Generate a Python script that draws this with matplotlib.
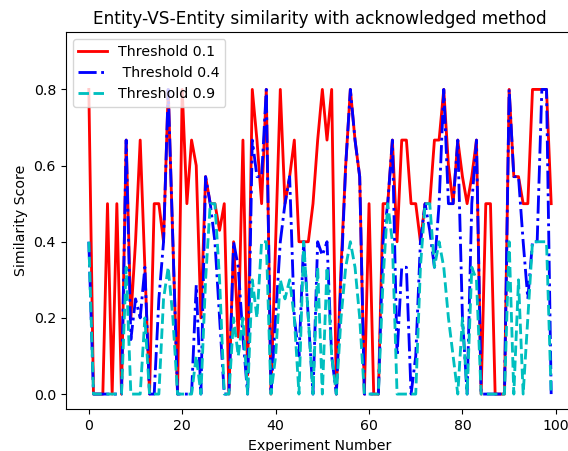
import matplotlib
matplotlib.use("Agg")
import matplotlib.pyplot as plt
import numpy as np

# similarity scores per experiment
red_vals = [0.8, 0, 0, 0, 0.5, 0, 0.5, 0, 0.667, 0.2,
            0.4, 0.667, 0.333, 0, 0.5, 0.5, 0.4, 0.8, 0.4, 0,
            0.8, 0.5, 0.667, 0.6, 0.2, 0.571, 0.5, 0.5, 0.43, 0.5,
            0, 0.4, 0.15, 0.667, 0.05, 0.8, 0.667, 0.5, 0.8, 0,
            0.4, 0.8, 0.5, 0.571, 0.667, 0.4, 0.4, 0.4, 0.5, 0.667,
            0.8, 0.667, 0.8, 0, 0.333, 0.6, 0.8, 0.667, 0.571, 0,
            0.5, 0, 0, 0.5, 0.5, 0.667, 0.4, 0.667, 0.667, 0.5,
            0.5, 0.4, 0.5, 0.5, 0.667, 0.667, 0.8, 0.6, 0.5, 0.667,
            0.571, 0.5, 0.571, 0.667, 0, 0.5, 0.5, 0, 0, 0,
            0.8, 0.571, 0.571, 0.5, 0.5, 0.8, 0.8, 0.8, 0.8, 0.5]
blue_vals = [0.4, 0, 0, 0, 0, 0, 0, 0, 0.667, 0.143,
             0.25, 0.2, 0.333, 0, 0, 0.25, 0.4, 0.8, 0.4, 0,
             0, 0, 0, 0.286, 0, 0.571, 0.5, 0.4, 0.2, 0,
             0, 0.4, 0.333, 0.15, 0, 0.667, 0.571, 0.571, 0.8, 0,
             0.2, 0.4, 0.5, 0.571, 0.2, 0.1, 0.4, 0.2, 0, 0.4,
             0.364, 0.4, 0.1, 0, 0.3, 0.6, 0.8, 0.667, 0.571, 0,
             0, 0, 0, 0.4, 0.5, 0.667, 0.1, 0.333, 0.333, 0,
             0.1, 0.4, 0.5, 0.429, 0.333, 0.5, 0.8, 0.5, 0.5, 0.667,
             0.2, 0, 0.5, 0.667, 0, 0, 0, 0, 0, 0,
             0.8, 0.571, 0.571, 0.4, 0.25, 0.4, 0.4, 0.8, 0.8, 0]
cyan_vals = [0.4, 0, 0, 0, 0, 0, 0, 0, 0.333, 0,
             0, 0, 0.2, 0, 0, 0, 0.25, 0.333, 0.2, 0,
             0, 0, 0, 0.1, 0, 0.3, 0.5, 0.5, 0.3, 0,
             0, 0.2, 0.1, 0.2, 0, 0.3, 0.2, 0.4, 0.4, 0,
             0.1, 0.3, 0.25, 0.3, 0.2, 0, 0.4, 0.2, 0, 0.333,
             0, 0.333, 0.1, 0, 0.2, 0.333, 0.4, 0.333, 0.2, 0,
             0, 0, 0, 0.3, 0.5, 0.4, 0, 0, 0, 0,
             0, 0.333, 0.5, 0.5, 0.333, 0.4, 0.333, 0.2, 0.1, 0,
             0.2, 0, 0.333, 0.3, 0, 0, 0, 0, 0, 0,
             0.4, 0, 0.3, 0, 0.2, 0.4, 0.4, 0.4, 0.4, 0]
labels = ['Threshold 0.1', ' Threshold 0.4', 'Threshold 0.9']

x = np.arange(len(red_vals))

fig = plt.figure(figsize=(5.68, 4.51), dpi=100)
# axes runs past the right edge, as in the cropped original
ax = fig.add_axes([65.7 / 568, 41.7 / 451, 508.6 / 568, 377 / 451])

lw = 2.04
ax.plot(x, red_vals, color='r', linestyle='-', linewidth=lw, label=labels[0])
ax.plot(x, blue_vals, color='b', linestyle='-.', linewidth=lw, label=labels[1])
ax.plot(x, cyan_vals, color='c', linestyle='--', linewidth=lw, label=labels[2])

ax.set_xlim(-4.95, 103.95)
ax.set_ylim(-0.04, 0.95)
ax.set_xticks([0, 20, 40, 60, 80, 100])
ax.set_yticks([0.0, 0.2, 0.4, 0.6, 0.8])
ax.tick_params(labelsize=10.2)

ax.set_title('Entity-VS-Entity similarity with acknowledged method', fontsize=12.2)
ax.set_xlabel('Experiment Number', fontsize=10.2)
ax.set_ylabel('Similarity Score', fontsize=10.2)
ax.legend(loc='upper left', fontsize=10.2)

fig.savefig('out.png', dpi=100)
